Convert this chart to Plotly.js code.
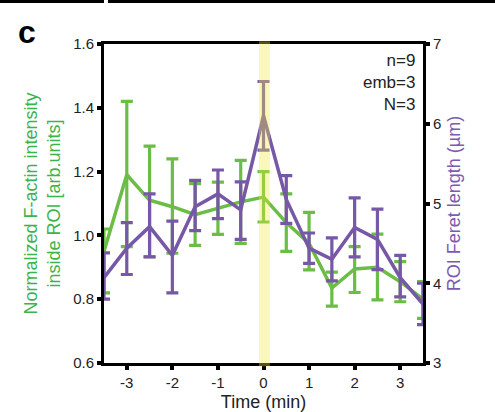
<!DOCTYPE html>
<html>
<head>
<meta charset="utf-8">
<script src="https://cdn.plot.ly/plotly-3.0.1.min.js"></script>
<style>html,body{margin:0;padding:0;background:#fff;}#chart{width:495px;height:412px;}</style>
</head>
<body>
<div id="chart"></div>
<script>
// Time points (min)
const time = [-3.5, -3, -2.5, -2, -1.5, -1, -0.5, 0, 0.5, 1, 1.5, 2, 2.5, 3, 3.5];
// Normalized F-actin intensity inside ROI (left axis)
const actin = [0.95, 1.19, 1.11, 1.09, 1.065, 1.085, 1.105, 1.12, 1.04, 0.975, 0.835, 0.895, 0.90, 0.855, 0.80];
const actinErrPlus = [0.07, 0.23, 0.17, 0.15, 0.097, 0.082, 0.13, 0.08, 0.09, 0.097, 0.05, 0.07, 0.104, 0.063, 0.055];
const actinErrMinus = [0.13, 0.225, 0.177, 0.146, 0.096, 0.082, 0.13, 0.078, 0.09, 0.083, 0.057, 0.074, 0.102, 0.063, 0.06];
// ROI Feret length (µm) (right axis)
const feret = [4.07, 4.44, 4.71, 4.35, 4.96, 5.12, 4.92, 6.1, 5.05, 4.44, 4.30, 4.70, 4.55, 4.07, 3.74];
const feretErrPlus = [0.31, 0.32, 0.41, 0.43, 0.33, 0.30, 0.35, 0.43, 0.30, 0.19, 0.27, 0.37, 0.38, 0.28, 0.26];
const feretErrMinus = [0.27, 0.33, 0.38, 0.47, 0.30, 0.31, 0.37, 0.43, 0.30, 0.19, 0.27, 0.37, 0.38, 0.24, 0.26];
// Ticks
const xTicks = [-3, -2, -1, 0, 1, 2, 3];
const xTickLabels = ['-3', '-2', '-1', '0', '1', '2', '3'];
const yLeftTicks = [0.6, 0.8, 1.0, 1.2, 1.4, 1.6];
const yRightTicks = [3, 4, 5, 6, 7];
// Highlighted interval around t = 0
const bandX = [-0.1, 0.14];

const GREEN = '#6bbd46';
const PURPLE = '#7658a6';
const FONT = '"Liberation Sans", Arial, sans-serif';

const traces = [
  {
    x: time, y: actin, yaxis: 'y', type: 'scatter', mode: 'lines',
    line: {color: GREEN, width: 3.5},
    error_y: {type: 'data', symmetric: false, array: actinErrPlus, arrayminus: actinErrMinus,
              color: GREEN, thickness: 3.2, width: 6},
    showlegend: false, hoverinfo: 'skip'
  },
  {
    x: time, y: feret, yaxis: 'y2', type: 'scatter', mode: 'lines',
    line: {color: PURPLE, width: 3.5},
    error_y: {type: 'data', symmetric: false, array: feretErrPlus, arrayminus: feretErrMinus,
              color: PURPLE, thickness: 3.2, width: 6},
    showlegend: false, hoverinfo: 'skip'
  }
];

const axisCommon = {
  showline: true, linecolor: '#000', linewidth: 3,
  ticks: 'outside', ticklen: 4, tickwidth: 4, tickcolor: '#000',
  showgrid: false, zeroline: false,
  tickfont: {family: FONT, size: 15, color: '#222'}
};

const layout = {
  width: 495, height: 412,
  margin: {l: 104, r: 72, t: 44, b: 49},
  paper_bgcolor: '#fff', plot_bgcolor: '#fff',
  font: {family: FONT},
  xaxis: Object.assign({}, axisCommon, {
    range: [-3.5, 3.5], tickvals: xTicks, ticktext: xTickLabels, mirror: true,
    title: {text: 'Time (min)', font: {family: FONT, size: 18, color: '#222'}, standoff: 6}
  }),
  yaxis: Object.assign({}, axisCommon, {
    range: [0.6, 1.6], tickvals: yLeftTicks, tickformat: '.1f',
    title: {text: 'Normalized F-actin intensity<br>inside ROI [arb.units]', font: {family: FONT, size: 18, color: '#3cb44b'}, standoff: 8}
  }),
  yaxis2: Object.assign({}, axisCommon, {
    range: [3, 7], tickvals: yRightTicks, overlaying: 'y', side: 'right',
    title: {text: 'ROI Feret length (µm)', font: {family: FONT, size: 18, color: '#7b5ab0'}, standoff: 8}
  }),
  shapes: [
    {type: 'rect', layer: 'above', xref: 'x', yref: 'paper', x0: bandX[0], x1: bandX[1], y0: -0.01, y1: 1.009,
     fillcolor: 'rgb(240,232,60)', opacity: 0.35, line: {width: 0}},
    {type: 'rect', xref: 'paper', yref: 'paper', x0: -0.33, x1: 0, y0: 1.1285, y1: 1.14,
     fillcolor: '#000', line: {width: 0}},
    {type: 'rect', xref: 'paper', yref: 'paper', x0: 0.0125, x1: 1.23, y0: 1.1285, y1: 1.14,
     fillcolor: '#000', line: {width: 0}}
  ],
  annotations: [
    {text: '<b>c</b>', xref: 'paper', yref: 'paper', x: -0.275, y: 1.039, xanchor: 'left', yanchor: 'middle',
     showarrow: false, font: {family: FONT, size: 32, color: '#000'}},
    {text: 'n=9<br>emb=3<br>N=3', xref: 'paper', yref: 'paper', x: 0.981, y: 0.985, xanchor: 'right', yanchor: 'top',
     align: 'right', showarrow: false, font: {family: FONT, size: 17, color: '#222'}}
  ]
};

Plotly.newPlot('chart', traces, layout, {staticPlot: true, displayModeBar: false});
</script>
</body>
</html>
